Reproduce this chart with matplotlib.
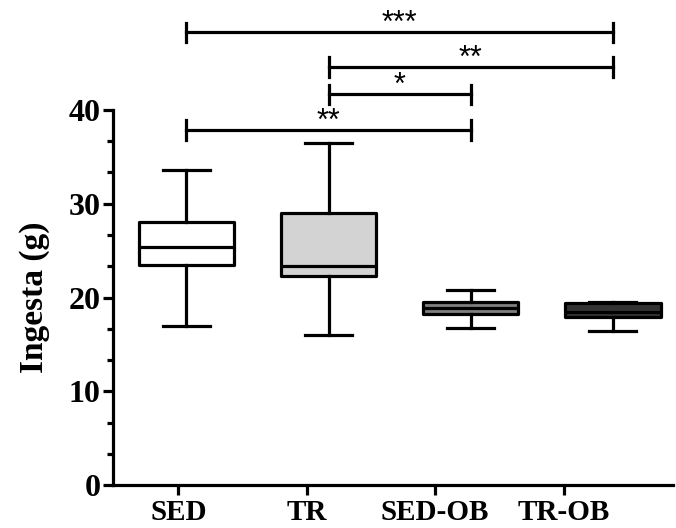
import matplotlib
matplotlib.use("Agg")
import matplotlib.pyplot as plt
from matplotlib.ticker import MultipleLocator

# box summaries
groups = ["SED", "TR", "SED-OB", "TR-OB"]
whis_lo = [17.0, 16.0, 16.8, 16.4]
q1 = [23.5, 22.3, 18.25, 17.95]
med = [25.4, 23.4, 18.85, 18.5]
q3 = [28.0, 29.0, 19.5, 19.4]
whis_hi = [33.6, 36.5, 20.8, 19.5]
fills = ["#ffffff", "#d3d3d3", "#7f7f7f", "#333333"]

# significance brackets: (group a, group b, height, label)
pairs = [(0, 3, 48.3, "***"), (1, 3, 44.6, "**"), (1, 2, 41.7, "*"), (0, 2, 37.9, "**")]

plt.rcParams["font.family"] = ["Liberation Serif", "DejaVu Serif"]

fig = plt.figure(figsize=(6.76, 5.28), dpi=100)
ax = fig.add_axes([0.167, 0.0814, 0.828, 0.7103])

pos = [1, 2, 3, 4]
# ticks sit a bit left of the boxes in the original
tick_pos = [0.944, 1.846, 2.748, 3.657]

stats = []
for i in range(len(groups)):
    stats.append(dict(med=med[i], q1=q1[i], q3=q3[i], whislo=whis_lo[i],
                      whishi=whis_hi[i], fliers=[], label=groups[i]))

lw = 2.3
bp = ax.bxp(stats, positions=pos, widths=0.67, patch_artist=True,
            showfliers=False,
            boxprops=dict(linewidth=lw, edgecolor="black"),
            medianprops=dict(color="black", linewidth=lw),
            whiskerprops=dict(color="black", linewidth=lw),
            capprops=dict(color="black", linewidth=lw),
            capwidths=0.33)
for patch, c in zip(bp["boxes"], fills):
    patch.set_facecolor(c)
    patch.set_joinstyle("round")

ax.set_xlim(0.483, 4.42)
ax.set_ylim(0, 40)
ax.set_xticks(tick_pos)
ax.set_xticklabels(groups, fontsize=21, fontweight="bold")
ax.set_yticks([0, 10, 20, 30, 40])
ax.yaxis.set_minor_locator(MultipleLocator(10 / 3))
for lab in ax.get_yticklabels():
    lab.set_fontsize(23)
    lab.set_fontweight("bold")
ax.set_ylabel("Ingesta (g)", fontsize=24, fontweight="bold", labelpad=13)

ax.spines["top"].set_visible(False)
ax.spines["right"].set_visible(False)
ax.spines["left"].set_linewidth(2.3)
ax.spines["bottom"].set_linewidth(2.3)
ax.tick_params(axis="y", which="major", direction="out", length=7, width=2.3, pad=2)
ax.tick_params(axis="y", which="minor", direction="out", length=4, width=2.3)
ax.tick_params(axis="x", which="major", direction="out", length=7, width=2.3, pad=3)

for a, b, h, txt in pairs:
    xa, xb = pos[a], pos[b]
    ax.plot([xa, xb], [h, h], color="black", lw=2.3, clip_on=False)
    ax.plot([xa, xa], [h - 1.1, h + 1.0], color="black", lw=2.3, clip_on=False)
    ax.plot([xb, xb], [h - 1.1, h + 1.0], color="black", lw=2.3, clip_on=False)
    ax.annotate(txt, xy=((xa + xb) / 2, h), xytext=(0, -5),
                textcoords="offset points", ha="center", va="bottom",
                fontsize=22, family="Liberation Sans",
                annotation_clip=False)

fig.savefig("out.png", dpi=100)
